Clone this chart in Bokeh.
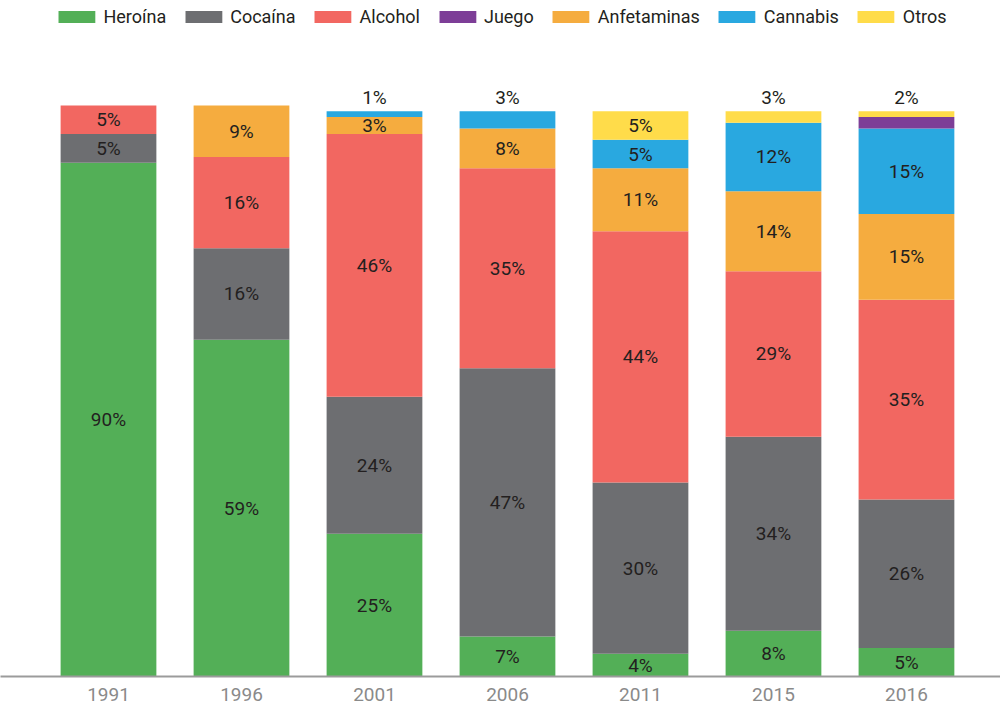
from bokeh.plotting import figure
from bokeh.models import Range1d, FixedTicker, Legend, LegendItem, ColumnDataSource
from bokeh.core.properties import value
from bokeh.embed import file_html
from bokeh.resources import INLINE

years = ["1991", "1996", "2001", "2006", "2011", "2015", "2016"]

# legend order
series = ["Heroína", "Cocaína", "Alcohol", "Juego", "Anfetaminas", "Cannabis", "Otros"]
colors = ["#53AF57", "#6D6E71", "#F26761", "#7D3E97", "#F5AC3F", "#29A8E0", "#FFDC4A"]

heroina = [90, 59, 25, 7, 4, 8, 5]
cocaina = [5, 16, 24, 47, 30, 34, 26]
alcohol = [5, 16, 46, 35, 44, 29, 35]
juego = [0, 0, 0, 0, 0, 0, 2]
anfetaminas = [0, 9, 3, 7, 11, 14, 15]
cannabis = [0, 0, 1, 3, 5, 12, 15]
otros = [0, 0, 0, 0, 5, 2, 1]

lab_heroina = ["90%", "59%", "25%", "7%", "4%", "8%", "5%"]
lab_cocaina = ["5%", "16%", "24%", "47%", "30%", "34%", "26%"]
lab_alcohol = ["5%", "16%", "46%", "35%", "44%", "29%", "35%"]
lab_juego = ["", "", "", "", "", "", ""]
lab_anfetaminas = ["", "9%", "3%", "8%", "11%", "14%", "15%"]
lab_cannabis = ["", "", "", "", "5%", "12%", "15%"]
lab_otros = ["", "", "", "", "5%", "", ""]
top_labels = ["", "", "1%", "3%", "", "3%", "2%"]

values = {"Heroína": heroina, "Cocaína": cocaina, "Alcohol": alcohol, "Juego": juego,
          "Anfetaminas": anfetaminas, "Cannabis": cannabis, "Otros": otros}
labels = {"Heroína": lab_heroina, "Cocaína": lab_cocaina, "Alcohol": lab_alcohol, "Juego": lab_juego,
          "Anfetaminas": lab_anfetaminas, "Cannabis": lab_cannabis, "Otros": lab_otros}
color_of = dict(zip(series, colors))

# stacking order, bottom to top
stack_order = ["Heroína", "Cocaína", "Alcohol", "Anfetaminas", "Cannabis", "Juego", "Otros"]

FONT = "Roboto"

xs = list(range(len(years)))
data = {"x": xs}
keys = []
for i, s in enumerate(stack_order):
    k = "s%d" % i
    keys.append(k)
    data[k] = values[s]
src = ColumnDataSource(data)

p = figure(width=1000, height=709, x_range=Range1d(-0.812, 6.707), y_range=Range1d(0, 118.4),
           output_backend="svg", toolbar_location=None, y_axis_type=None,
           min_border_left=0, min_border_right=0, min_border_top=0, min_border_bottom=33)
p.outline_line_color = None
p.xgrid.visible = False
p.ygrid.visible = False

rs = p.vbar_stack(keys, x="x", width=0.72, color=[color_of[s] for s in stack_order],
                  line_color=None, source=src)
rend_of = dict(zip(stack_order, rs))

# segment labels
lx, ly, lt = [], [], []
bottoms = [0] * len(years)
for s in stack_order:
    v, lab = values[s], labels[s]
    for j in range(len(years)):
        if lab[j]:
            lx.append(xs[j])
            ly.append(bottoms[j] + v[j] / 2)
            lt.append(lab[j])
        bottoms[j] += v[j]
p.text(x=lx, y=ly, text=lt, text_align="center", text_baseline="middle",
       text_font=value(FONT), text_font_size="19px", text_color="#231F20")

tx, ty, tt = [], [], []
for j in range(len(years)):
    if top_labels[j]:
        tx.append(xs[j])
        ty.append(bottoms[j])
        tt.append(top_labels[j])
p.text(x=tx, y=ty, text=tt, text_align="center", text_baseline="middle", y_offset=-14,
       text_font=value(FONT), text_font_size="19px", text_color="#231F20")

ax = p.xaxis[0]
ax.ticker = FixedTicker(ticks=xs)
ax.major_label_overrides = {x: y for x, y in zip(xs, years)}
ax.major_tick_line_color = None
ax.minor_tick_line_color = None
ax.axis_line_color = "#9B9B9B"
ax.axis_line_width = 2
ax.major_label_text_font = FONT
ax.major_label_text_font_size = "19px"
ax.major_label_text_color = "#8A8A8A"
ax.major_label_standoff = 5

items = [LegendItem(label=s, renderers=[rend_of[s]]) for s in series]
leg = Legend(items=items, orientation="horizontal", location="top_center",
             glyph_width=46, glyph_height=15, label_standoff=4, spacing=14,
             padding=0, margin=6, border_line_alpha=0, background_fill_alpha=0,
             label_text_font=FONT, label_text_font_size="18px", label_text_color="#231F20")
p.add_layout(leg)

open("out.html", "w").write(file_html(p, INLINE))
